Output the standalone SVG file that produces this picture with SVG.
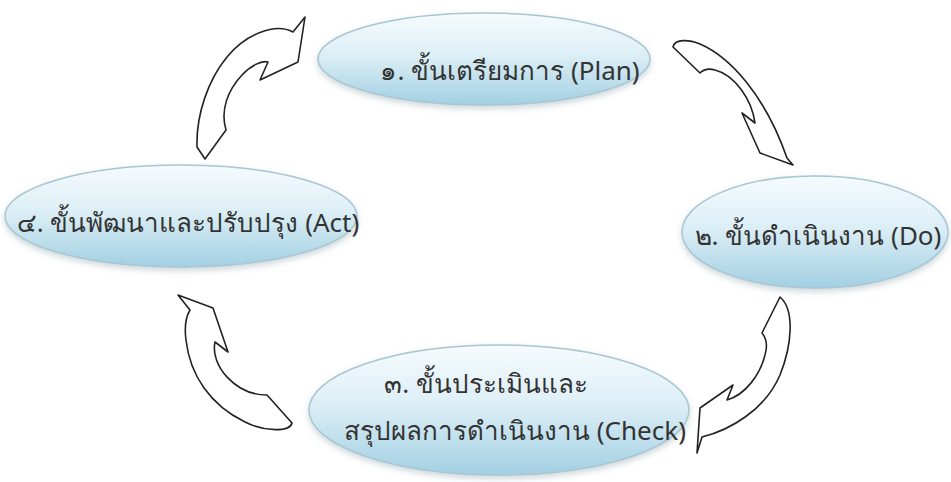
<svg xmlns="http://www.w3.org/2000/svg" width="951" height="482" viewBox="0 0 951 482">
<defs>
<linearGradient id="g" x1="0" y1="0" x2="0" y2="1">
<stop offset="0" stop-color="#f6fbfd"/>
<stop offset="0.45" stop-color="#ddeff6"/>
<stop offset="1" stop-color="#a3d0e3"/>
</linearGradient>
<filter id="sh" x="-10%" y="-10%" width="120%" height="130%">
<feDropShadow dx="0" dy="3" stdDeviation="3" flood-color="#6d8a96" flood-opacity="0.35"/>
</filter>
</defs>
<style>
.n{fill:url(#g);stroke:#a9c6d3;stroke-width:1.5;filter:url(#sh)}
.t{font-family:"Noto Sans","DejaVu Sans",sans-serif;font-size:26px;fill:#333;text-anchor:middle}
.a{fill:#fff;stroke:#222;stroke-width:1.6;stroke-linejoin:round}
</style>
<rect width="951" height="482" fill="#fff"/>
<g id="connectors">
<path class="a" d="M305,17 L293,32 C275,22 245,35 227,57 C208,80 196,115 197,147 L205,159 L226,130 C220,110 228,90 242,75 C250,66 262,60 268,62 L260,80 L298,62 Z"/>
<path class="a" d="M673,47 C675,38 690,40 700,44 C730,57 765,95 787,158 L793,165 L760,153 L742,113 L755,123 C752,100 735,75 715,70 C708,68 703,70 700,73 Z"/>
<path class="a" d="M780,297 C795,310 792,345 780,375 C765,410 730,430 702,437 L697,453 L700,408 L733,385 L727,400 C745,395 760,375 765,355 C768,345 766,338 762,333 Z"/>
<path class="a" d="M178,295 L213,308 L228,352 L215,342 C210,365 235,395 267,395 L292,423 C290,432 265,432 245,422 C210,405 190,375 186,340 C184,325 187,315 190,310 Z"/>
</g>
<g id="plan">
<ellipse class="n" cx="484" cy="59" rx="166" ry="46"/>
<text class="t" x="510" y="80">๑. ขั้นเตรียมการ (Plan)</text>
</g>
<g id="do">
<ellipse class="n" cx="815" cy="232" rx="133" ry="56"/>
<text class="t" x="818" y="245">๒. ขั้นดำเนินงาน (Do)</text>
</g>
<g id="check">
<ellipse class="n" cx="499" cy="410" rx="190" ry="65"/>
<text class="t" x="486" y="393">๓. ขั้นประเมินและ</text>
<text class="t" x="515" y="440">สรุปผลการดำเนินงาน (Check)</text>
</g>
<g id="act">
<ellipse class="n" cx="181" cy="216" rx="176" ry="51"/>
<text class="t" x="188" y="232">๔. ขั้นพัฒนาและปรับปรุง (Act)</text>
</g>
</svg>
